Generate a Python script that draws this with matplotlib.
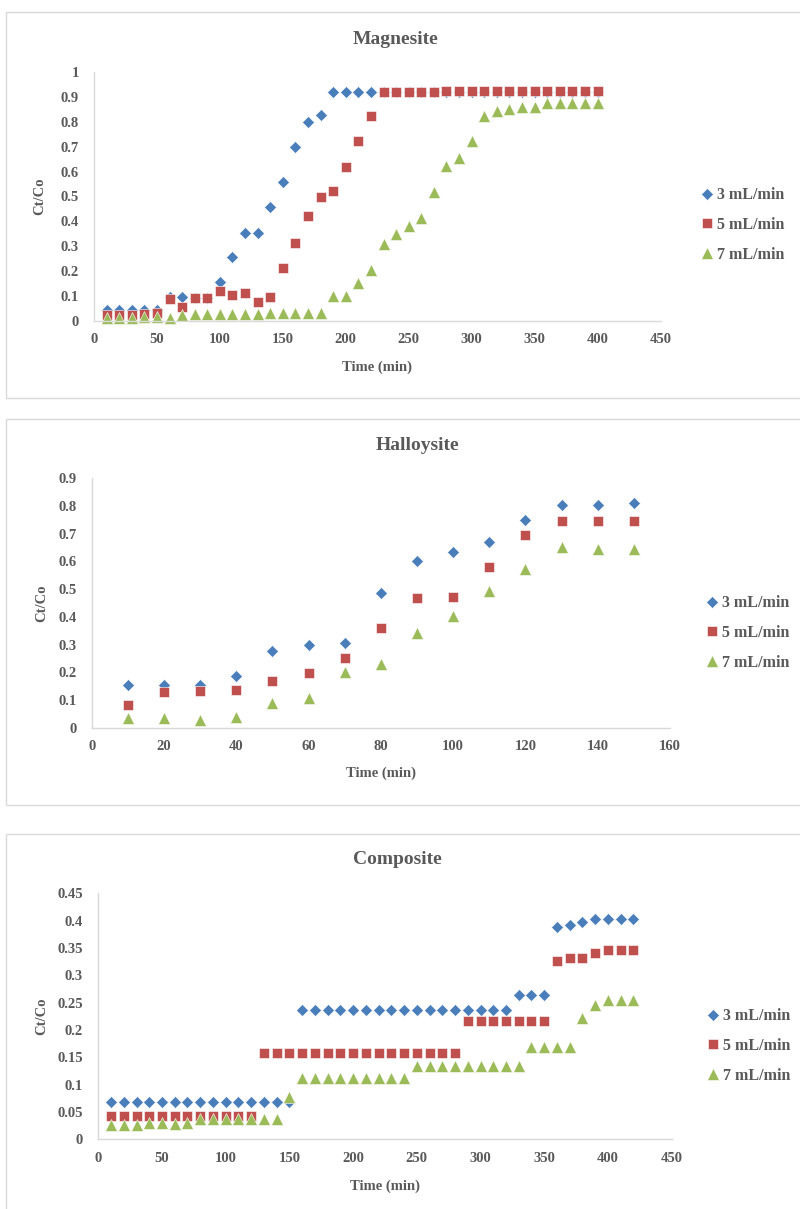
import matplotlib
matplotlib.use("Agg")
import matplotlib.pyplot as plt
from matplotlib.patches import Rectangle

# ---------------- data ----------------
series_labels = ["3 mL/min", "5 mL/min", "7 mL/min"]

mag_time = [10, 20, 30, 40, 50, 60, 70, 80, 90, 100, 110, 120, 130, 140, 150, 160, 170, 180, 190, 200,
            210, 220, 230, 240, 250, 260, 270, 280, 290, 300, 310, 320, 330, 340, 350, 360, 370, 380, 390, 400]
mag_3 = [0.044, 0.044, 0.044, 0.044, 0.044, 0.096, 0.096, 0.092, 0.092, 0.158, 0.258, 0.353, 0.353, 0.456,
         0.557, 0.697, 0.799, 0.827, 0.921, 0.921, 0.921, 0.921, 0.921, 0.921, 0.921, 0.921, 0.921, 0.921,
         0.921, 0.921, 0.921, 0.921, 0.921, 0.921, 0.921, 0.921, 0.921, 0.921, 0.921, 0.921]
mag_5 = [0.024, 0.024, 0.024, 0.028, 0.033, 0.087, 0.057, 0.091, 0.091, 0.122, 0.104, 0.111, 0.078, 0.095,
         0.212, 0.315, 0.422, 0.497, 0.522, 0.620, 0.723, 0.823, 0.918, 0.918, 0.918, 0.918, 0.918, 0.925,
         0.925, 0.925, 0.925, 0.925, 0.925, 0.925, 0.925, 0.925, 0.925, 0.925, 0.925, 0.925]
mag_7 = [0.011, 0.011, 0.011, 0.015, 0.015, 0.011, 0.024, 0.028, 0.028, 0.028, 0.028, 0.028, 0.028, 0.033,
         0.033, 0.033, 0.033, 0.033, 0.100, 0.100, 0.151, 0.205, 0.308, 0.349, 0.381, 0.412, 0.519, 0.622,
         0.653, 0.724, 0.825, 0.843, 0.851, 0.861, 0.861, 0.874, 0.874, 0.874, 0.874, 0.874]

hal_time = [10, 20, 30, 40, 50, 60, 70, 80, 90, 100, 110, 120, 130, 140, 150]
hal_3 = [0.154, 0.155, 0.155, 0.187, 0.278, 0.298, 0.304, 0.485, 0.602, 0.635, 0.670, 0.750, 0.804, 0.804, 0.810]
hal_5 = [0.082, 0.128, 0.132, 0.136, 0.170, 0.196, 0.253, 0.359, 0.469, 0.473, 0.581, 0.695, 0.747, 0.747, 0.747]
hal_7 = [0.034, 0.034, 0.028, 0.037, 0.090, 0.106, 0.202, 0.230, 0.343, 0.404, 0.494, 0.573, 0.653, 0.644, 0.644]

com_time = [10, 20, 30, 40, 50, 60, 70, 80, 90, 100, 110, 120, 130, 140, 150, 160, 170, 180, 190, 200, 210,
            220, 230, 240, 250, 260, 270, 280, 290, 300, 310, 320, 330, 340, 350, 360, 370, 380, 390, 400,
            410, 420]
com_3 = [0.069, 0.069, 0.069, 0.069, 0.069, 0.069, 0.069, 0.069, 0.069, 0.069, 0.069, 0.069, 0.069, 0.069,
         0.068, 0.237, 0.237, 0.237, 0.237, 0.237, 0.237, 0.237, 0.237, 0.237, 0.237, 0.237, 0.237, 0.237,
         0.237, 0.237, 0.237, 0.237, 0.264, 0.264, 0.264, 0.389, 0.392, 0.397, 0.403, 0.403, 0.403, 0.403]
com_5 = [0.043, 0.043, 0.043, 0.043, 0.043, 0.043, 0.043, 0.043, 0.043, 0.043, 0.043, 0.043, 0.157, 0.157,
         0.157, 0.157, 0.157, 0.157, 0.157, 0.157, 0.157, 0.157, 0.157, 0.157, 0.157, 0.157, 0.157, 0.157,
         0.216, 0.216, 0.216, 0.216, 0.216, 0.216, 0.216, 0.327, 0.331, 0.331, 0.341, 0.346, 0.346, 0.346]
com_7 = [0.026, 0.026, 0.026, 0.029, 0.029, 0.028, 0.029, 0.037, 0.037, 0.037, 0.037, 0.037, 0.037, 0.037,
         0.077, 0.112, 0.112, 0.112, 0.112, 0.112, 0.112, 0.112, 0.112, 0.112, 0.134, 0.134, 0.134, 0.134,
         0.134, 0.134, 0.134, 0.134, 0.134, 0.168, 0.168, 0.168, 0.168, 0.222, 0.246, 0.254, 0.254, 0.254]

mag_yticks = [0, 0.1, 0.2, 0.3, 0.4, 0.5, 0.6, 0.7, 0.8, 0.9, 1]
mag_xticks = [0, 50, 100, 150, 200, 250, 300, 350, 400, 450]
hal_yticks = [0, 0.1, 0.2, 0.3, 0.4, 0.5, 0.6, 0.7, 0.8, 0.9]
hal_xticks = [0, 20, 40, 60, 80, 100, 120, 140, 160]
com_yticks = [0, 0.05, 0.1, 0.15, 0.2, 0.25, 0.3, 0.35, 0.4, 0.45]
com_xticks = [0, 50, 100, 150, 200, 250, 300, 350, 400, 450]

# ---------------- style ----------------
W, H = 800, 1209
FONT = ["Liberation Serif", "DejaVu Serif"]
TXT = "#595959"
AXIS = "#d9d9d9"
COLORS = ["#4a7ebb", "#c0504d", "#9bbb59"]
MARKERS = ["D", "s", "^"]
MSIZES = [6.3, 7.9, 8.8]

fig = plt.figure(figsize=(W / 100, H / 100), dpi=100)


def fx(px):
    return px / W


def fy(py):
    return 1 - py / H


def fmt(v):
    return "0" if v == 0 else ("%g" % v)


panels = [
    dict(title="Magnesite", box=(6, 12, 398), title_xy=(396, 40),
         x0=94, x1=660.5, y0=321, y1=72, xlim=(0, 450), ylim=(0, 1),
         xticks=mag_xticks, yticks=mag_yticks,
         t=mag_time, ys=[mag_3, mag_5, mag_7],
         legend_xy=(701, 225), xlabel_y=367, ylabel_x=40),
    dict(title="Halloysite", box=(6, 419, 805), title_xy=(417, 446),
         x0=91.7, x1=670, y0=727.7, y1=478.3, xlim=(0, 160), ylim=(0, 0.9),
         xticks=hal_xticks, yticks=hal_yticks,
         t=hal_time, ys=[hal_3, hal_5, hal_7],
         legend_xy=(706, 633), xlabel_y=773, ylabel_x=42),
    dict(title="Composite", box=(6, 834, 1230), title_xy=(397, 860),
         x0=98.3, x1=671.6, y0=1139.3, y1=893.3, xlim=(0, 450), ylim=(0, 0.45),
         xticks=com_xticks, yticks=com_yticks,
         t=com_time, ys=[com_3, com_5, com_7],
         legend_xy=(707, 1046), xlabel_y=1186, ylabel_x=42),
]

for p in panels:
    bx, btop, bbot = p["box"]
    fig.patches.append(Rectangle((fx(bx), fy(bbot)), fx(W + 20 - bx), fy(btop) - fy(bbot),
                                 transform=fig.transFigure, fill=False,
                                 edgecolor=AXIS, linewidth=1.0, zorder=0))

    ax = fig.add_axes([fx(p["x0"]), fy(p["y0"]), fx(p["x1"] - p["x0"]), (p["y0"] - p["y1"]) / H])
    for ys, c, m, ms, lab in zip(p["ys"], COLORS, MARKERS, MSIZES, series_labels):
        ax.plot(p["t"], ys, linestyle="none", marker=m, markersize=ms, color=c,
                markeredgecolor="white", markeredgewidth=0.4, label=lab, clip_on=False)

    ax.set_xlim(*p["xlim"])
    ax.set_ylim(*p["ylim"])
    ax.set_xticks(p["xticks"])
    ax.set_yticks(p["yticks"])
    ax.set_xticklabels([fmt(v) for v in p["xticks"]])
    ax.set_yticklabels([fmt(v) for v in p["yticks"]])
    ax.tick_params(length=0, labelsize=10.5, labelcolor=TXT)
    ax.tick_params(axis="y", pad=11)
    ax.tick_params(axis="x", pad=9)
    for lbl in ax.get_xticklabels() + ax.get_yticklabels():
        lbl.set_fontfamily(FONT)
        lbl.set_fontweight("bold")
    for s in ("top", "right"):
        ax.spines[s].set_visible(False)
    for s in ("left", "bottom"):
        ax.spines[s].set_color(AXIS)
        ax.spines[s].set_linewidth(1.0)

    ax.set_xlabel("Time (min)", family=FONT, fontweight="bold", fontsize=10.5, color=TXT)
    ax.xaxis.set_label_coords(0.5, -(p["xlabel_y"] - p["y0"]) / (p["y0"] - p["y1"]))
    ax.xaxis.label.set_verticalalignment("center")
    ax.set_ylabel("Ct/Co", family=FONT, fontweight="bold", fontsize=10.5, color=TXT)
    ax.yaxis.set_label_coords(-(p["x0"] - p["ylabel_x"]) / (p["x1"] - p["x0"]), 0.5)
    ax.yaxis.label.set_verticalalignment("center")

    fig.text(fx(p["title_xy"][0]), fy(p["title_xy"][1]), p["title"], family=FONT,
             fontweight="bold", fontsize=14, color=TXT, ha="center", va="center")

    leg = ax.legend(loc="center left", bbox_to_anchor=(fx(p["legend_xy"][0]), fy(p["legend_xy"][1])),
                    bbox_transform=fig.transFigure, frameon=False, handlelength=0.7,
                    handletextpad=0.3, labelspacing=0.85, borderpad=0, borderaxespad=0,
                    prop=dict(family=FONT, weight="bold", size=11.5))
    for t in leg.get_texts():
        t.set_color(TXT)

fig.savefig("out.png", dpi=100, facecolor="white")
